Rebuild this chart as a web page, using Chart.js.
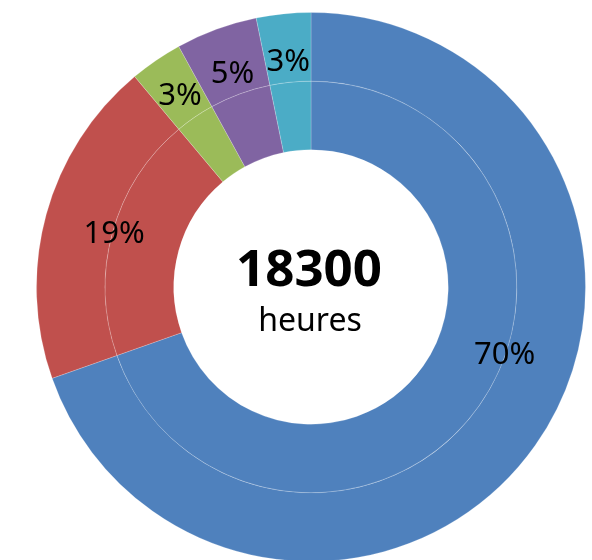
<!DOCTYPE html>
<html>
<head>
<meta charset="utf-8">
<script src="https://cdn.jsdelivr.net/npm/chart.js@4"></script>
<style>
  html, body { margin: 0; padding: 0; background: #fff; overflow: hidden; }
  #wrap { position: absolute; left: 36px; top: 12px; width: 550px; height: 550px; }
</style>
</head>
<body>
<div id="wrap"><canvas id="chart"></canvas></div>
<script>
// chart values (share of total hours, %)
const categories = ['Part 1', 'Part 2', 'Part 3', 'Part 4', 'Part 5'];
const shares = [69.6, 19.3, 3.1, 4.8, 3.2];
const shareLabels = ['70%', '19%', '3%', '5%', '3%'];
const totalHours = '18300';
const totalUnit = 'heures';

const colors = ['#4F81BD', '#C0504D', '#9BBB59', '#8064A2', '#4BACC6'];

// where each label sits: fraction along its arc, and distance from centre
const labelPlace = [[0.436, 205], [0.5, 204], [0.5, 232], [0.5, 228], [0.5, 227]];

const labelPlugin = {
    id: 'labels',
    afterDatasetsDraw(chart) {
        const ctx = chart.ctx;
        const arcs = chart.getDatasetMeta(0).data;
        const cx = arcs[0].x, cy = arcs[0].y;
        ctx.save();
        ctx.fillStyle = '#000';
        ctx.textAlign = 'center';
        ctx.textBaseline = 'middle';
        ctx.font = '31px "Noto Sans"';
        arcs.forEach((arc, i) => {
            const p = labelPlace[i];
            const a = arc.startAngle + (arc.endAngle - arc.startAngle) * p[0];
            ctx.fillText(shareLabels[i], cx + Math.cos(a) * p[1], cy + Math.sin(a) * p[1] + 1);
        });
        // centre text
        ctx.textBaseline = 'alphabetic';
        ctx.font = 'bold 51px "Noto Sans"';
        ctx.fillText(totalHours, cx - 2, cy - 1);
        ctx.font = '32px "Noto Sans"';
        ctx.fillText(totalUnit, cx - 1, cy + 44);
        ctx.restore();
    }
};

new Chart(document.getElementById('chart'), {
    type: 'doughnut',
    data: {
        labels: categories,
        datasets: [
            { data: shares, backgroundColor: colors, borderColor: 'rgba(255,255,255,0.2)', borderWidth: 1 },
            { data: shares, backgroundColor: colors, borderColor: 'rgba(255,255,255,0.2)', borderWidth: 1 }
        ]
    },
    options: {
        responsive: true,
        maintainAspectRatio: false,
        animation: false,
        cutout: '50%',
        layout: { padding: 0 },
        plugins: {
            legend: { display: false },
            tooltip: { enabled: false }
        }
    },
    plugins: [labelPlugin]
});
</script>
</body>
</html>
